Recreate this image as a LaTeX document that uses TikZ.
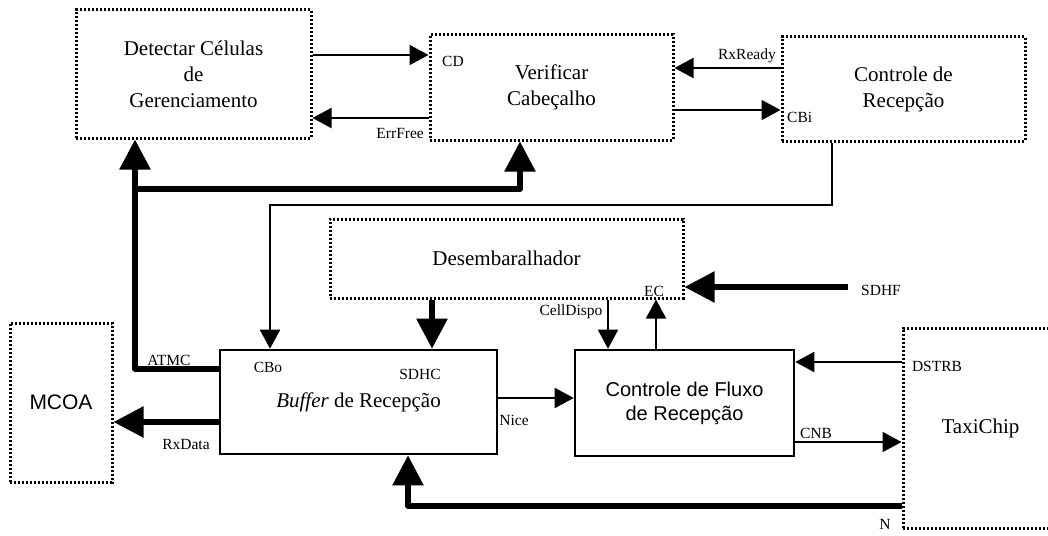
\documentclass[tikz,border=0pt]{standalone}
\usepackage{fontspec}
\setmainfont{Liberation Serif}
\setsansfont{Liberation Sans}
\usetikzlibrary{arrows.meta}
\begin{document}
\begin{tikzpicture}[x=1pt,y=-1pt,
  dotbox/.style={draw, line width=3pt, dash pattern=on 2.4pt off 1.6pt,
    inner sep=0pt, align=center, font=\fontsize{21}{26}\selectfont},
  solidbox/.style={draw, line width=2.6pt, inner sep=0pt, align=center,
    font=\fontsize{21}{26}\selectfont},
  sig/.style={font=\fontsize{15.5}{17}\selectfont, inner sep=0pt},
  thinarrow/.style={line width=2pt, -{Triangle[length=19pt,width=20pt]}},
  thickarrow/.style={line width=5.5pt, line join=round,
    -{Triangle[length=30pt,width=30pt]}}]

\useasboundingbox (0,0) rectangle (1048,535);
\clip (0,0) rectangle (1048,535);

% blocks
\node[dotbox, minimum width=235pt, minimum height=128pt] (det) at (193.5,74)
  {Detectar Células\\de\\Gerenciamento};
\node[dotbox, minimum width=243pt, minimum height=105pt] (ver) at (551.5,87.5)
  {Verificar\\Cabeçalho};
\node[dotbox, minimum width=243pt, minimum height=104pt] (ctr) at (903.5,89)
  {Controle de\\Recepção};
\node[dotbox, minimum width=353pt, minimum height=79pt] (des) at (506.5,258.5)
  {\raisebox{-8pt}{Desembaralhador}};
\node[dotbox, minimum width=102pt, minimum height=159pt,
  font=\sffamily\fontsize{21}{24}\selectfont] (mcoa) at (61,402.5) {MCOA};
\node[solidbox, minimum width=277pt, minimum height=104pt] (buf) at (358.5,402)
  {\raisebox{-3pt}{\textit{Buffer} de Recepção}};
\node[solidbox, minimum width=219pt, minimum height=106pt,
  font=\sffamily\fontsize{20}{24}\selectfont] (flx) at (684.5,403)
  {Controle de Fluxo\\de Recepção};
\node[dotbox, minimum width=167pt, minimum height=200pt] (taxi) at (986.5,428)
  {\hspace*{-12pt}TaxiChip};

% signal names
\node[sig] (lCD) at (453,61) {CD};
\node[sig, anchor=east] (lErr) at (424,133) {ErrFree};
\node[sig, anchor=east] (lRx) at (776,56) {RxReady};
\node[sig, anchor=west] (lCBi) at (787,117) {CBi};
\node[sig] (lATMC) at (169,360) {ATMC};
\node[sig] (lRxD) at (186,444) {RxData};
\node[sig] (lCBo) at (268,367) {CBo};
\node[sig] (lSDHC) at (420,374) {SDHC};
\node[sig] (lNice) at (514,420) {Nice};
\node[sig] (lCell) at (571,312) {CellDispo};
\node[sig] (lEC) at (654,291) {EC};
\node[sig] (lSDHF) at (881,290) {SDHF};
\node[sig] (lDSTRB) at (937,366) {DSTRB};
\node[sig] (lCNB) at (816,433) {CNB};
\node[sig] (lN) at (885,524) {N};

\coordinate (sdhfsrc) at (848,287);

% thin control signals
\draw[thinarrow] (det.east |- 0,55) -- (ver.west |- 0,55);
\draw[thinarrow] (ver.west |- 0,118) -- (det.east |- 0,118);
\draw[thinarrow] (ctr.west |- 0,68) -- (ver.east |- 0,68);
\draw[thinarrow] (ver.east |- 0,110) -- (ctr.west |- 0,110);
\draw[thinarrow] (ctr.south -| 832,0) -- (832,205) -- (270,205) -- (buf.north -| 270,0);
\draw[thinarrow] (des.south -| 608,0) -- (flx.north -| 608,0);
\draw[thinarrow] (flx.north -| 656,0) -- (des.south -| 656,0);
\draw[thinarrow] (buf.east |- 0,398) -- (flx.west |- 0,398);
\draw[thinarrow] (taxi.west |- 0,362) -- (flx.east |- 0,362);
\draw[thinarrow] (flx.east |- 0,442) -- (taxi.west |- 0,442);

% wide data paths
\draw[thickarrow] (buf.west |- 0,369) -- (135,369) -- (det.south -| 135,0);
\draw[thickarrow] (135,189) -- (520,189) -- (ver.south -| 520,0);
\draw[thickarrow] (buf.west |- 0,422) -- (mcoa.east |- 0,422);
\draw[thickarrow] (des.south -| 432,0) -- (buf.north -| 432,0);
\draw[thickarrow] (sdhfsrc) -- (des.east |- sdhfsrc);
\draw[thickarrow] (taxi.west |- 0,506) -- (408,506) -- (buf.south -| 408,0);
\end{tikzpicture}
\end{document}
